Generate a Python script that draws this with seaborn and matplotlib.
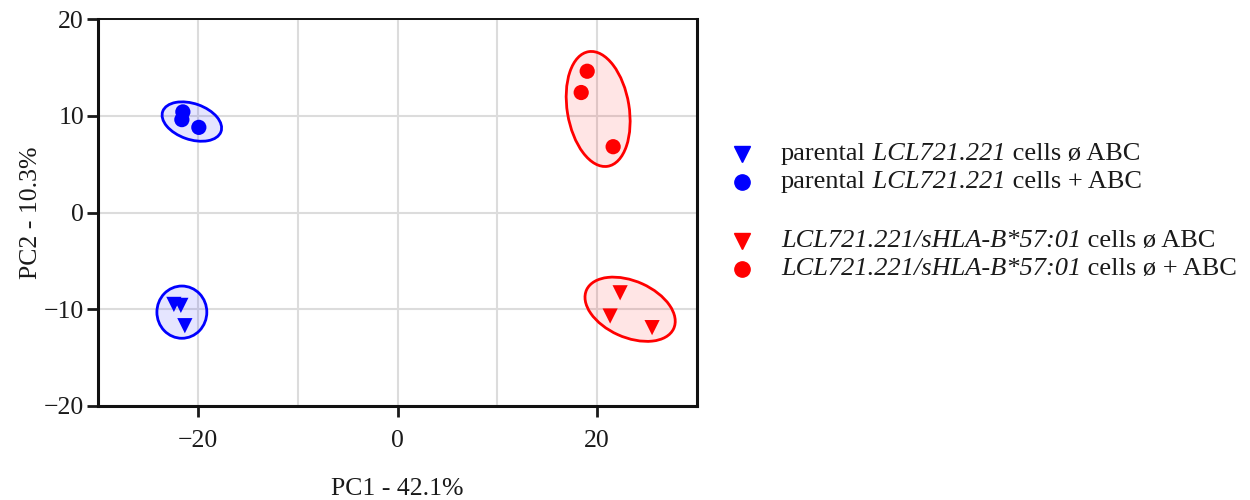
import numpy as np
import pandas as pd
import matplotlib
matplotlib.use('Agg')
from matplotlib import pyplot as plt
import seaborn as sns
from matplotlib.patches import Ellipse
from matplotlib.lines import Line2D
from matplotlib.offsetbox import TextArea, HPacker, AnnotationBbox

# PCA scores (3 replicates per group)
line = ['parental'] * 6 + ['sHLA'] * 6
abc = ['no', 'no', 'no', 'yes', 'yes', 'yes'] * 2
pc1 = [-22.4, -21.7, -21.3, -21.5, -21.6, -19.9,
       22.3, 21.3, 25.5, 19.0, 18.4, 21.6]
pc2 = [-9.5, -9.6, -11.7, 10.4, 9.6, 8.8,
       -8.3, -10.7, -11.9, 14.6, 12.4, 6.8]

# group ellipses: centre, width, height, angle
ell_line = ['parental', 'parental', 'sHLA', 'sHLA']
ell_x = [-21.6, -20.6, 23.3, 20.1]
ell_y = [-10.3, 9.4, -10.0, 10.7]
ell_w = [5.0, 6.2, 9.6, 6.2]
ell_h = [5.4, 3.7, 5.8, 12.0]
ell_angle = [0, -20, -25, 9]

xticks = [-20, 0, 20]
yticks = [-20, -10, 0, 10, 20]

# legend: (line, marker, [(text, italic), ...])
legend_rows = [
    ('parental', 'v', [('parental', False), (' LCL721.221', True), (' cells ø ABC', False)]),
    ('parental', 'o', [('parental', False), (' LCL721.221', True), (' cells + ABC', False)]),
    ('sHLA', 'v', [('LCL721.221/sHLA-B*57:01', True), (' cells ø ABC', False)]),
    ('sHLA', 'o', [('LCL721.221/sHLA-B*57:01', True), (' cells ø + ABC', False)]),
]

colors = {'parental': '#0000ff', 'sHLA': '#ff0000'}

df = pd.DataFrame({'PC1': pc1, 'PC2': pc2, 'line': line, 'abc': abc})

sns.set_style('white')
plt.rcParams['font.family'] = ['Liberation Serif', 'DejaVu Serif']
FS = 18.5
LFS = 19
TXT = '#1a1a1a'

fig = plt.figure(figsize=(12.5, 5), dpi=100)
ax = fig.add_axes([98 / 1250, 1 - 406 / 500, 599 / 1250, 387 / 500])

for l, x, y, w, h, a in zip(ell_line, ell_x, ell_y, ell_w, ell_h, ell_angle):
    ax.add_patch(Ellipse((x, y), w, h, angle=a, facecolor=colors[l], alpha=0.1,
                         edgecolor='none', zorder=2))
    ax.add_patch(Ellipse((x, y), w, h, angle=a, facecolor='none',
                         edgecolor=colors[l], lw=2, zorder=2.5))

sns.scatterplot(data=df, x='PC1', y='PC2', hue='line', style='abc',
                palette=colors, markers={'no': 'v', 'yes': 'o'}, s=120,
                linewidth=0, legend=False, zorder=3, ax=ax)

ax.set_xlim(-30, 30)
ax.set_ylim(-20, 20)
ax.set_xticks(xticks)
ax.set_xticks([-10, 10], minor=True)
ax.set_yticks(yticks)
ax.grid(True, which='both', axis='x', color='#dcdcdc', lw=1.5, zorder=0)
ax.grid(True, which='major', axis='y', color='#dcdcdc', lw=1.5, zorder=0)
ax.set_axisbelow(True)
ax.tick_params(which='minor', length=0)
ax.tick_params(which='major', direction='out', length=8, width=2,
               labelsize=FS, colors=TXT, bottom=True, left=True)
ax.tick_params(axis='x', pad=9)
ax.tick_params(axis='y', pad=2)

for side in ['left', 'bottom', 'right']:
    ax.spines[side].set_linewidth(2.2)
ax.spines['top'].set_linewidth(1.4)
for s in ax.spines.values():
    s.set_color('#111111')

ax.set_xlabel('PC1 - 42.1%', fontsize=FS, color=TXT)
ax.set_ylabel('PC2 - 10.3%', fontsize=FS, color=TXT)
ax.xaxis.set_label_coords(0.5, -0.185)
ax.yaxis.set_label_coords(-0.093, 0.5)

# custom legend with mixed italic text
row_y = [154, 182, 241, 269]
for (l, m, parts), py in zip(legend_rows, row_y):
    fig.add_artist(Line2D([742 / 1250], [1 - py / 500], marker=m, color=colors[l],
                          markersize=11, linestyle='none', transform=fig.transFigure))
    boxes = [TextArea(t, textprops=dict(fontsize=LFS, color=TXT,
                                        style='italic' if it else 'normal'))
             for t, it in parts]
    pack = HPacker(children=boxes, align='baseline', pad=0, sep=0)
    ab = AnnotationBbox(pack, (781, 500 - py), xycoords='figure pixels',
                        box_alignment=(0, 0.5), frameon=False, pad=0)
    fig.add_artist(ab)

fig.savefig('out.png', dpi=100)
